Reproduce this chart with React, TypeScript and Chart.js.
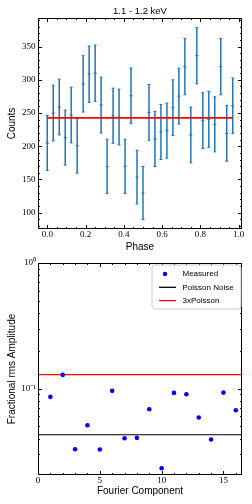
import React, { useEffect, useRef } from 'react';
import { Chart, registerables } from 'chart.js';

Chart.register(...registerables);

// ---------- Top panel: folded light curve ----------
const phaseBins = [
  0, 0.03125, 0.0625, 0.09375, 0.125, 0.15625, 0.1875, 0.21875,
  0.25, 0.28125, 0.3125, 0.34375, 0.375, 0.40625, 0.4375, 0.46875,
  0.5, 0.53125, 0.5625, 0.59375, 0.625, 0.65625, 0.6875, 0.71875,
  0.75, 0.78125, 0.8125, 0.84375, 0.875, 0.90625, 0.9375, 0.96875,
];
const counts = [
  205, 250, 259, 213, 247, 201, 294, 308.5,
  310, 262, 169.5, 246, 244, 169.5, 276, 153.5,
  129.5, 251, 211, 221.5, 223.5, 258, 275.5, 320,
  217, 336.5, 238.5, 240.5, 233, 320, 219.5, 261,
];
const countErrors = [
  41.5, 42, 42, 41.5, 42, 41.5, 42.5, 42.5,
  42.5, 42, 41, 41.5, 42, 41, 42, 40.5,
  40, 42, 41.5, 41.5, 41.5, 42, 42, 42.5,
  42, 42.5, 42, 42, 41.5, 42.5, 42, 42,
];
const meanCounts = 242.6;
const phaseTicks = [0, 0.2, 0.4, 0.6, 0.8, 1.0];
const phaseTickLabels = ['0.0', '0.2', '0.4', '0.6', '0.8', '1.0'];
const countTicks = [100, 150, 200, 250, 300, 350];
const countTickLabels = ['100', '150', '200', '250', '300', '350'];
const topTitle = '1.1 - 1.2 keV';

// ---------- Bottom panel: Fourier rms amplitudes ----------
const harmonics = [1, 2, 3, 4, 5, 6, 7, 8, 9, 10, 11, 12, 13, 14, 15, 16];
const rmsAmplitudes = [
  0.0859, 0.1285, 0.0329, 0.0511, 0.0327, 0.0959, 0.0402, 0.0405,
  0.0684, 0.0232, 0.0924, 0.0901, 0.0588, 0.0393, 0.0929, 0.0672,
];
const poissonLevel = 0.0429;
const poissonTripleLevel = 0.1290;
const fourierTicks = [0, 5, 10, 15];
const fourierTickLabels = ['0', '5', '10', '15'];
const rmsTicks = [0.1, 1];
const rmsTickLabels = ['10\u207B\u00B9', '10\u2070'];

const tickFont = { family: 'Liberation Serif', size: 9 };
const labelFont = { family: 'Liberation Sans', size: 10 };

function drawLine(ctx: CanvasRenderingContext2D, x1: number, y1: number, x2: number, y2: number) {
  ctx.beginPath();
  ctx.moveTo(x1, y1);
  ctx.lineTo(x2, y2);
  ctx.stroke();
}

function linearMinor(min: number, max: number, step: number) {
  const out: number[] = [];
  const k0 = Math.ceil(min / step - 1e-9);
  const k1 = Math.floor(max / step + 1e-9);
  for (let k = k0; k <= k1; k++) out.push(k * step);
  return out;
}

function logMinor(min: number, max: number) {
  const out: number[] = [];
  for (let d = Math.floor(Math.log10(min)); d <= Math.ceil(Math.log10(max)); d++) {
    for (let m = 2; m <= 9; m++) {
      const v = m * Math.pow(10, d);
      if (v >= min && v <= max) out.push(v);
    }
  }
  return out;
}

function makeFramePlugin(cfg: { xMajor: number[]; xMinorStep: number; yMajor: number[]; yMinorStep?: number; yLog?: boolean }) {
  return {
    id: 'frameTicks',
    afterDatasetsDraw(chart: any) {
      const { ctx, chartArea } = chart;
      const { left, right, top, bottom } = chartArea;
      const xs = chart.scales.x;
      const ys = chart.scales.y;
      ctx.save();
      ctx.strokeStyle = '#000';
      ctx.lineWidth = 1;
      const xTick = (v: number, len: number) => {
        const p = Math.round(xs.getPixelForValue(v)) + 0.5;
        if (p < left || p > right) return;
        drawLine(ctx, p, bottom, p, bottom - len);
        drawLine(ctx, p, top, p, top + len);
      };
      const yTick = (v: number, len: number) => {
        const p = Math.round(ys.getPixelForValue(v)) + 0.5;
        if (p < top || p > bottom) return;
        drawLine(ctx, left, p, left + len, p);
        drawLine(ctx, right, p, right - len, p);
      };
      linearMinor(xs.min, xs.max, cfg.xMinorStep).forEach((v) => xTick(v, 2));
      cfg.xMajor.forEach((v) => xTick(v, 4));
      const yMinor = cfg.yLog ? logMinor(ys.min, ys.max) : linearMinor(ys.min, ys.max, cfg.yMinorStep || 1);
      yMinor.forEach((v) => yTick(v, 2));
      cfg.yMajor.forEach((v) => yTick(v, 4));
      ctx.strokeRect(left + 0.5, top + 0.5, right - left - 1, bottom - top - 1);
      ctx.restore();
    },
  };
}

const errorBarPlugin = {
  id: 'errorBars',
  beforeDatasetsDraw(chart: any) {
    const ds = chart.data.datasets[0];
    if (!ds || !ds.errors) return;
    const { ctx } = chart;
    const xs = chart.scales.x;
    const ys = chart.scales.y;
    ctx.save();
    ctx.strokeStyle = ds.borderColor;
    ds.data.forEach((pt: any, i: number) => {
      const e = ds.errors[i];
      const px = xs.getPixelForValue(pt.x);
      const yLo = ys.getPixelForValue(pt.y - e);
      const yHi = ys.getPixelForValue(pt.y + e);
      ctx.lineWidth = 1.5;
      drawLine(ctx, px, yLo, px, yHi);
      ctx.lineWidth = 1;
      drawLine(ctx, px - 1.5, yLo, px + 1.5, yLo);
      drawLine(ctx, px - 1.5, yHi, px + 1.5, yHi);
    });
    ctx.restore();
  },
};

const boxLegendPlugin = {
  id: 'boxLegend',
  afterDraw(chart: any) {
    const { ctx, chartArea } = chart;
    const w = 89;
    const h = 44;
    const x0 = chartArea.right - 1.5 - w;
    const y0 = chartArea.top + 1.5;
    ctx.save();
    ctx.beginPath();
    if ((ctx as any).roundRect) (ctx as any).roundRect(x0 + 0.5, y0 + 0.5, w, h, 3);
    else ctx.rect(x0 + 0.5, y0 + 0.5, w, h);
    ctx.fillStyle = 'rgba(255,255,255,0.85)';
    ctx.fill();
    ctx.strokeStyle = '#cccccc';
    ctx.lineWidth = 1;
    ctx.stroke();
    ctx.font = '8px "Liberation Sans"';
    ctx.textBaseline = 'middle';
    ctx.textAlign = 'left';
    chart.data.datasets.forEach((ds: any, i: number) => {
      const y = y0 + 9.5 + i * 13.3;
      if (ds.showLine) {
        ctx.strokeStyle = ds.borderColor;
        ctx.lineWidth = 1.3;
        drawLine(ctx, x0 + 7.5, y, x0 + 24.5, y);
      } else {
        ctx.fillStyle = ds.backgroundColor;
        ctx.beginPath();
        ctx.arc(x0 + 13.5, y, 2.2, 0, Math.PI * 2);
        ctx.fill();
      }
      ctx.fillStyle = '#000';
      ctx.fillText(ds.label, x0 + 31, y);
    });
    ctx.restore();
  },
};

export default function App() {
  const topRef = useRef<HTMLCanvasElement | null>(null);
  const botRef = useRef<HTMLCanvasElement | null>(null);

  useEffect(() => {
    const topChart = new Chart(topRef.current as HTMLCanvasElement, {
      type: 'scatter',
      data: {
        datasets: [
          {
            label: 'Counts',
            data: phaseBins.map((x, i) => ({ x, y: counts[i] })),
            errors: countErrors,
            borderColor: '#1f77b4',
            backgroundColor: '#1f77b4',
            pointStyle: 'line',
            pointRadius: 1.5,
            borderWidth: 1.2,
          } as any,
          {
            label: 'Mean',
            data: [
              { x: phaseBins[0], y: meanCounts },
              { x: phaseBins[phaseBins.length - 1], y: meanCounts },
            ],
            showLine: true,
            borderColor: '#ff0000',
            backgroundColor: '#ff0000',
            borderWidth: 1.8,
            pointRadius: 0,
          } as any,
        ],
      },
      options: {
        responsive: false,
        animation: false,
        devicePixelRatio: 1,
        layout: { padding: { left: 0, right: 10, top: 0, bottom: 0 } },
        plugins: {
          legend: { display: false },
          tooltip: { enabled: false },
          title: {
            display: true,
            text: topTitle,
            fullSize: false,
            color: '#000',
            font: { family: 'Liberation Sans', size: 9.5, weight: 'normal' },
            padding: { top: 5.5, bottom: 1.1 },
          },
        },
        scales: {
          x: {
            type: 'linear',
            min: -0.0484,
            max: 1.0172,
            bounds: 'data',
            grid: { display: false, drawTicks: false },
            border: { display: false },
            ticks: {
              font: tickFont,
              color: '#000',
              padding: 0,
              maxRotation: 0,
              autoSkip: false,
              callback: (_v: any, i: number) => phaseTickLabels[i],
            },
            afterBuildTicks: (a: any) => {
              a.ticks = phaseTicks.map((value) => ({ value }));
            },
            afterFit: (s: any) => {
              s.height = 27;
            },
            title: { display: true, text: 'Phase', color: '#000', font: labelFont, padding: { top: 0, bottom: 3 } },
          },
          y: {
            type: 'linear',
            min: 75.3,
            max: 393.2,
            bounds: 'data',
            grid: { display: false, drawTicks: false },
            border: { display: false },
            ticks: {
              font: { ...tickFont, lineHeight: 1 },
              color: '#000',
              padding: 2.5,
              autoSkip: false,
              callback: (_v: any, i: number) => countTickLabels[i],
            },
            afterBuildTicks: (a: any) => {
              a.ticks = countTicks.map((value) => ({ value }));
            },
            afterFit: (s: any) => {
              s.width = 38;
            },
            title: { display: true, text: 'Counts', color: '#000', font: labelFont, padding: { top: 6, bottom: 0 } },
          },
        },
      } as any,
      plugins: [errorBarPlugin, makeFramePlugin({ xMajor: phaseTicks, xMinorStep: 0.05, yMajor: countTicks, yMinorStep: 10 })],
    });

    const botChart = new Chart(botRef.current as HTMLCanvasElement, {
      type: 'scatter',
      data: {
        datasets: [
          {
            label: 'Measured',
            data: harmonics.map((x, i) => ({ x, y: rmsAmplitudes[i] })),
            borderColor: '#0000ff',
            backgroundColor: '#0000ff',
            pointRadius: 2.3,
            borderWidth: 0,
          } as any,
          {
            label: 'Poisson Noise',
            data: [
              { x: 0, y: poissonLevel },
              { x: 16.5, y: poissonLevel },
            ],
            showLine: true,
            borderColor: '#000000',
            backgroundColor: '#000000',
            borderWidth: 1.2,
            pointRadius: 0,
          } as any,
          {
            label: '3xPoisson',
            data: [
              { x: 0, y: poissonTripleLevel },
              { x: 16.5, y: poissonTripleLevel },
            ],
            showLine: true,
            borderColor: '#ff0000',
            backgroundColor: '#ff0000',
            borderWidth: 1.3,
            pointRadius: 0,
          } as any,
        ],
      },
      options: {
        responsive: false,
        animation: false,
        devicePixelRatio: 1,
        layout: { padding: { left: 0, right: 10, top: 7, bottom: 0 } },
        plugins: {
          legend: { display: false },
          tooltip: { enabled: false },
          title: { display: false },
        },
        scales: {
          x: {
            type: 'linear',
            min: 0,
            max: 16.5,
            bounds: 'data',
            grid: { display: false, drawTicks: false },
            border: { display: false },
            ticks: {
              font: tickFont,
              color: '#000',
              padding: 0,
              maxRotation: 0,
              autoSkip: false,
              callback: (_v: any, i: number) => fourierTickLabels[i],
            },
            afterBuildTicks: (a: any) => {
              a.ticks = fourierTicks.map((value) => ({ value }));
            },
            afterFit: (s: any) => {
              s.height = 29;
            },
            title: { display: true, text: 'Fourier Component', color: '#000', font: labelFont, padding: { top: 0, bottom: 6.3 } },
          },
          y: {
            type: 'logarithmic',
            min: 0.0205,
            max: 1,
            bounds: 'data',
            grid: { display: false, drawTicks: false },
            border: { display: false },
            ticks: {
              font: { ...tickFont, lineHeight: 1 },
              color: '#000',
              padding: 2,
              autoSkip: false,
              callback: (_v: any, i: number) => rmsTickLabels[i],
            },
            afterBuildTicks: (a: any) => {
              a.ticks = rmsTicks.map((value) => ({ value }));
            },
            afterFit: (s: any) => {
              s.width = 38;
            },
            title: { display: true, text: 'Fractional rms Amplitude', color: '#000', font: labelFont, padding: { top: 6, bottom: 0 } },
          },
        },
      } as any,
      plugins: [makeFramePlugin({ xMajor: fourierTicks, xMinorStep: 1, yMajor: rmsTicks, yLog: true }), boxLegendPlugin],
    });

    return () => {
      topChart.destroy();
      botChart.destroy();
    };
  }, []);

  return (
    <div style={{ position: 'fixed', left: 0, top: 0, width: 252, height: 504, background: '#fff' }}>
      <canvas ref={topRef} width={252} height={256} style={{ position: 'absolute', left: 0, top: 0, width: 252, height: 256 }} />
      <canvas ref={botRef} width={252} height={248} style={{ position: 'absolute', left: 0, top: 256, width: 252, height: 248 }} />
    </div>
  );
}
